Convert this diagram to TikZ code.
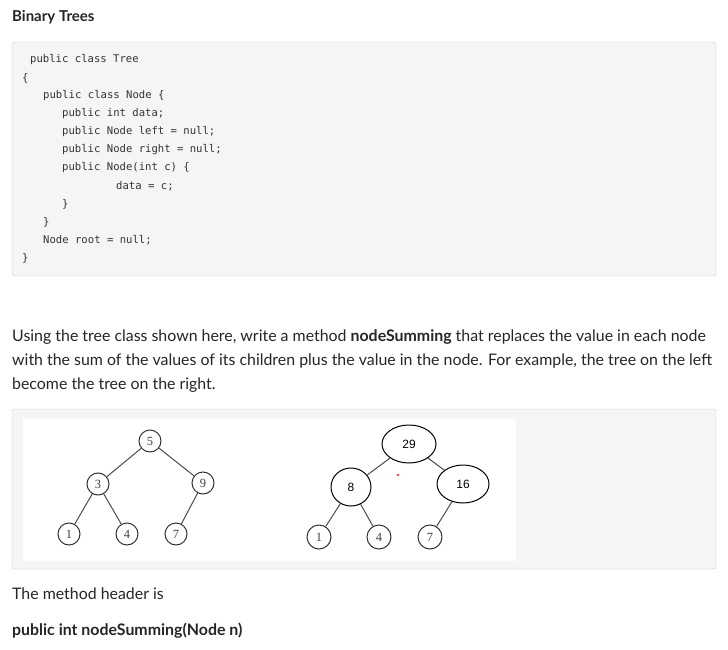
\documentclass[tikz,border=0pt]{standalone}
\usetikzlibrary{shapes.geometric}
\usepackage{fontspec}
\setmainfont{Lato}
\newfontfamily\codefont{DejaVu Sans Mono}
\newfontfamily\timesfont{Liberation Serif}
\newfontfamily\sansfont{Liberation Sans}
\begin{document}
\begin{tikzpicture}[x=1pt,y=-1pt,
  code/.style={anchor=west,inner sep=0,font=\codefont\fontsize{10.6}{12}\selectfont,text=black!80},
  para/.style={anchor=west,inner sep=0,font=\fontsize{15.9}{18}\selectfont,text=black!85},
  panel/.style={draw=black!20,fill=black!4,rounded corners=3pt},
  tn/.style={circle,draw=black!80,line width=1pt,inner sep=0,font=\timesfont\fontsize{12.5}{13}\selectfont,text=black!75},
  en/.style={ellipse,draw=black,line width=1pt,inner sep=0,font=\sansfont\fontsize{12}{13}\selectfont},
  edge/.style={draw=black!70,line width=1pt}]
\useasboundingbox (0,0) rectangle (728,650);
\fill[white] (0,0) rectangle (728,650);
\node[para,font=\bfseries\fontsize{15}{18}\selectfont] (title) at (12,17) {Binary Trees};
\draw[panel] (12,42) rectangle (716,276);
\node[code] (c1) at (30,60) {public class Tree};
\node[code] (c2) at (22,78) {\{};
\node[code] (c3) at (43,96) {public class Node \{};
\node[code] (c4) at (62,114) {public int data;};
\node[code] (c5) at (62,132) {public Node left = null;};
\node[code] (c6) at (62,150) {public Node right = null;};
\node[code] (c7) at (62,168) {public Node(int c) \{};
\node[code] (c8) at (116,186) {data = c;};
\node[code] (c9) at (62,204) {\}};
\node[code] (c10) at (43,222) {\}};
\node[code] (c11) at (43,240) {Node root = null;};
\node[code] (c12) at (22,258) {\}};
\node[para] (p1) at (12,337) {Using the tree class shown here, write a method \textbf{nodeSumming} that replaces the value in each node};
\node[para] (p2) at (12,361) {with the sum of the values of its children plus the value in the node. For example, the tree on the left};
\node[para] (p3) at (12,385) {become the tree on the right.};
\draw[panel] (12,409) rectangle (716,569);
\fill[white] (23,419) rectangle (516,561);
\node[tn,minimum size=22pt] (a5) at (150,441) {5};
\node[tn,minimum size=22pt] (a3) at (98,484) {3};
\node[tn,minimum size=22pt] (a9) at (203,483) {9};
\node[tn,minimum size=22pt] (a1) at (69,534) {1};
\node[tn,minimum size=22pt] (a4) at (127,534) {4};
\node[tn,minimum size=22pt] (a7) at (176,534) {7};
\node[tn,minimum size=24pt] (b1) at (319,537) {1};
\node[tn,minimum size=24pt] (b4) at (379,537) {4};
\node[tn,minimum size=24pt] (b7) at (430,537) {7};
\node[en,minimum width=54pt,minimum height=38pt] (b29) at (409,444) {29};
\node[en,minimum width=40pt,minimum height=38pt] (b8) at (351,487) {8};
\node[en,minimum width=52pt,minimum height=38pt] (b16) at (463,484) {16};
\fill[red] (398,475) circle (1.2pt);
\draw[edge] (a5)--(a3); \draw[edge] (a5)--(a9);
\draw[edge] (a3)--(a1); \draw[edge] (a3)--(a4); \draw[edge] (a9)--(a7);
\draw[edge] (b29)--(b8); \draw[edge] (b29)--(b16);
\draw[edge] (b8)--(b1); \draw[edge] (b8)--(b4); \draw[edge] (b16)--(b7);
\node[para] (m1) at (12,594) {The method header is};
\node[para,font=\bfseries\fontsize{15.9}{18}\selectfont] (m2) at (12,631) {public int nodeSumming(Node n)};
\end{tikzpicture}
\end{document}
